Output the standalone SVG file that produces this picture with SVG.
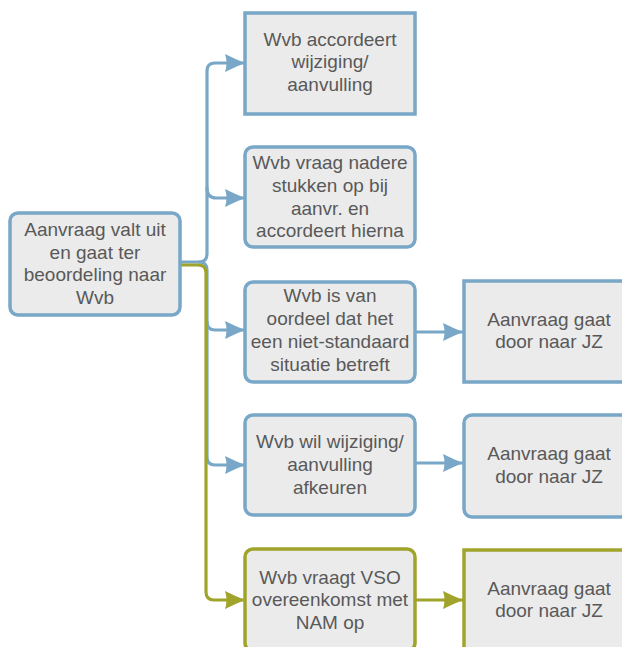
<svg xmlns="http://www.w3.org/2000/svg" width="622" height="647" viewBox="0 0 622 647">
<style>
.box{fill:#ebebeb;stroke-width:3.5}
.b{stroke:#78a7c8}
.g{stroke:#a0a42a}
.t{font-family:"Liberation Sans",Arial,sans-serif;font-size:19px;fill:#595959;text-anchor:middle}
.cb{fill:none;stroke:#78a7c8;stroke-width:3.2;stroke-linecap:round}
.cg{fill:none;stroke:#a0a42a;stroke-width:3.2;stroke-linecap:round}
</style>
<defs>
<marker id="ab" markerUnits="userSpaceOnUse" markerWidth="21" markerHeight="20" refX="20" refY="10" orient="auto" viewBox="0 0 21 20">
<path d="M0,1 Q10,6 20,10 Q10,14 0,19 Q3,10 0,1 Z" fill="#78a7c8"/>
</marker>
<marker id="ag" markerUnits="userSpaceOnUse" markerWidth="21" markerHeight="20" refX="20" refY="10" orient="auto" viewBox="0 0 21 20">
<path d="M0,1 Q10,6 20,10 Q10,14 0,19 Q3,10 0,1 Z" fill="#a0a42a"/>
</marker>
</defs>
<g id="connectors">
<path class="cb" d="M180,262 H199 Q207,262 207,254 V71 Q207,63 215,63 H245" marker-end="url(#ab)"/>
<path class="cb" d="M207,188 Q207,198 216,198 H245" marker-end="url(#ab)"/>
<path class="cb" d="M199,262 Q207,262 207,270 V322 Q207,330 215,330 H245" marker-end="url(#ab)"/>
<path class="cb" d="M207,322 V457 Q207,465 215,465 H245" marker-end="url(#ab)"/>
<path class="cb" d="M415,332 H463" marker-end="url(#ab)"/>
<path class="cb" d="M415,463 H463" marker-end="url(#ab)"/>
<path class="cg" d="M178,265 H198 Q206,265 206,273 V592 Q206,600 214,600 H245" marker-end="url(#ag)"/>
<path class="cg" d="M415,600 H463" marker-end="url(#ag)"/>
</g>
<g id="n_start">
<rect class="box b" x="10" y="213" width="170" height="102" rx="8"/>
<text class="t" x="95" y="236">Aanvraag valt uit</text>
<text class="t" x="95" y="259">en gaat ter</text>
<text class="t" x="95" y="281">beoordeling naar</text>
<text class="t" x="95" y="304">Wvb</text>
</g>
<g id="n_accordeert">
<rect class="box b" x="245" y="13" width="170" height="101"/>
<text class="t" x="330" y="46">Wvb accordeert</text>
<text class="t" x="330" y="68">wijziging/</text>
<text class="t" x="330" y="91">aanvulling</text>
</g>
<g id="n_nadere">
<rect class="box b" x="245" y="147" width="170" height="100" rx="8"/>
<text class="t" x="330" y="169">Wvb vraag nadere</text>
<text class="t" x="330" y="192">stukken op bij</text>
<text class="t" x="330" y="215">aanvr. en</text>
<text class="t" x="330" y="237">accordeert hierna</text>
</g>
<g id="n_nietstandaard">
<rect class="box b" x="245" y="282" width="170" height="100" rx="8"/>
<text class="t" x="330" y="302">Wvb is van</text>
<text class="t" x="330" y="325">oordeel dat het</text>
<text class="t" x="330" y="348">een niet-standaard</text>
<text class="t" x="330" y="371">situatie betreft</text>
</g>
<g id="n_jz1">
<rect class="box b" x="464" y="281" width="170" height="101"/>
<text class="t" x="549" y="326">Aanvraag gaat</text>
<text class="t" x="549" y="348">door naar JZ</text>
</g>
<g id="n_afkeuren">
<rect class="box b" x="245" y="415" width="170" height="100" rx="8"/>
<text class="t" x="330" y="448">Wvb wil wijziging/</text>
<text class="t" x="330" y="471">aanvulling</text>
<text class="t" x="330" y="494">afkeuren</text>
</g>
<g id="n_jz2">
<rect class="box b" x="464" y="415" width="170" height="102" rx="8"/>
<text class="t" x="549" y="460">Aanvraag gaat</text>
<text class="t" x="549" y="483">door naar JZ</text>
</g>
<g id="n_vso">
<rect class="box g" x="245" y="549" width="170" height="102" rx="8"/>
<text class="t" x="330" y="584">Wvb vraagt VSO</text>
<text class="t" x="330" y="606">overeenkomst met</text>
<text class="t" x="330" y="629">NAM op</text>
</g>
<g id="n_jz3">
<rect class="box g" x="464" y="550" width="170" height="102"/>
<text class="t" x="549" y="595">Aanvraag gaat</text>
<text class="t" x="549" y="617">door naar JZ</text>
</g>
</svg>
